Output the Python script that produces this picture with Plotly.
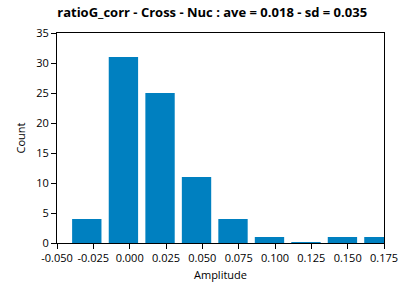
import plotly.graph_objects as go

bin_centers = [-0.0295, -0.0043, 0.0209, 0.0460, 0.0711, 0.0962, 0.1213, 0.1464, 0.1715]
counts = [4, 31, 25, 11, 4, 1, 0.15, 1, 1]
x_ticks = [-0.05, -0.025, 0.0, 0.025, 0.05, 0.075, 0.1, 0.125, 0.15, 0.175]
x_tick_labels = ["-0.050", "-0.025", "0.000", "0.025", "0.050", "0.075", "0.100", "0.125", "0.150", "0.175"]
y_ticks = [0, 5, 10, 15, 20, 25, 30, 35]

font_family = "Open Sans, DejaVu Sans, sans-serif"

fig = go.Figure(go.Bar(x=bin_centers, y=counts, width=0.0202,
                       marker=dict(color="#0080C0", line=dict(width=0))))

fig.update_layout(
    width=408, height=287,
    margin=dict(l=57, r=24, t=33, b=44),
    paper_bgcolor="white", plot_bgcolor="white",
    showlegend=False,
    font=dict(family=font_family, size=11, color="#000000"),
    title=dict(text="<b>ratioG_corr - Cross - Nuc : ave = 0.018 - sd = 0.035</b>",
               x=0.52, xanchor="center", y=0.955, yanchor="middle",
               font=dict(family=font_family, size=13, color="#000000")),
)
fig.update_xaxes(range=[-0.05, 0.175], tickvals=x_ticks, ticktext=x_tick_labels,
                 automargin=False,
                 showgrid=False, zeroline=False, showline=True, linecolor="black", linewidth=1,
                 mirror=True, ticks="outside", ticklen=5, tickcolor="black",
                 title=dict(text="Amplitude", standoff=7, font=dict(size=11)))
fig.update_yaxes(range=[0, 35], tickvals=y_ticks,
                 automargin=False,
                 showgrid=False, zeroline=False, showline=True, linecolor="black", linewidth=1,
                 mirror=True, ticks="outside", ticklen=5, tickcolor="black",
                 title=dict(text="Count", standoff=8, font=dict(size=11)))

fig.write_html("out.html")
